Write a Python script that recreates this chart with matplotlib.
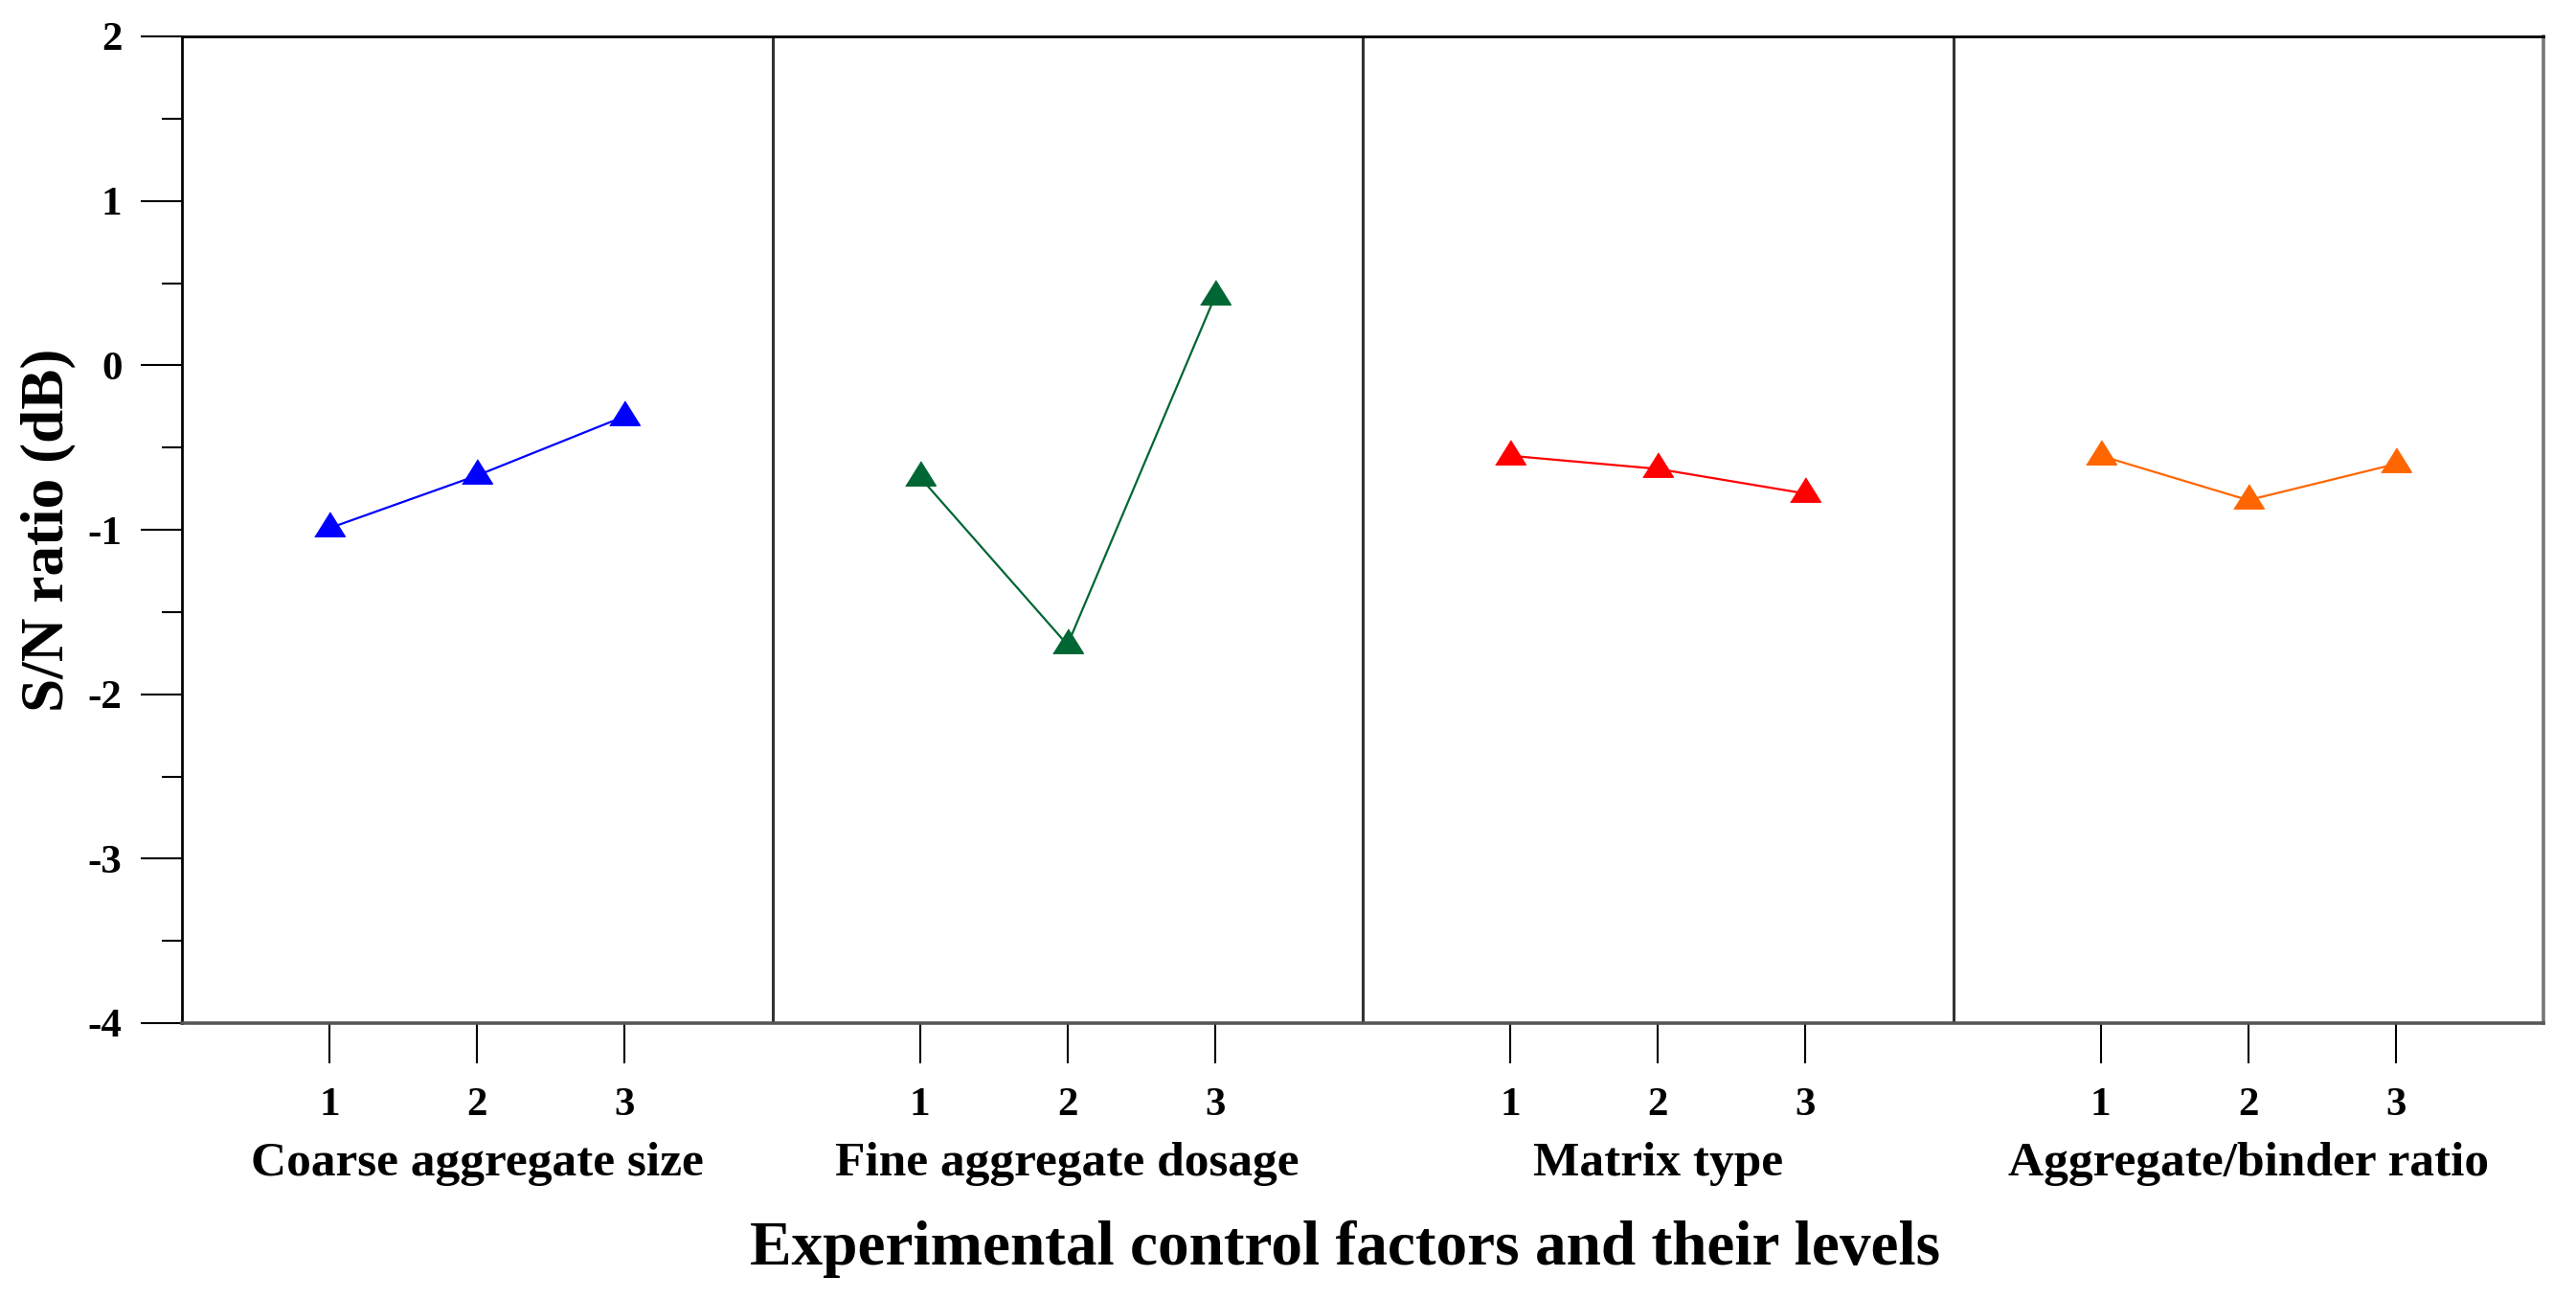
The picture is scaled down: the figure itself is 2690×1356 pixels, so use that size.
import matplotlib
matplotlib.use("Agg")
import matplotlib.pyplot as plt
from matplotlib.ticker import MultipleLocator, FixedLocator

factors = ["Coarse aggregate size", "Fine aggregate dosage", "Matrix type", "Aggregate/binder ratio"]
levels = ["1", "2", "3"]
coarse = [-0.99, -0.67, -0.31]
fine = [-0.68, -1.70, 0.42]
matrix = [-0.55, -0.63, -0.78]
ab_ratio = [-0.55, -0.82, -0.60]
series = [coarse, fine, matrix, ab_ratio]
colors = ["#0000FF", "#006633", "#FF0000", "#FF6600"]

plt.rcParams['font.family'] = ['Liberation Serif', 'DejaVu Serif']
plt.rcParams['font.weight'] = 'bold'
plt.rcParams['axes.unicode_minus'] = False

W, H = 2690, 1356
L, R, T, B = 190, 2656, 38, 1068
fig = plt.figure(figsize=(W / 100, H / 100), dpi=100)
ax = fig.add_axes([L / W, 1 - B / H, (R - L) / W, (B - T) / H])

tri = [(-1, -0.55), (1, -0.55), (0, 1.05)]
n = len(levels)
xt, xl = [], []
lab_tr = matplotlib.transforms.blended_transform_factory(ax.transData, fig.transFigure)
for i, (vals, c) in enumerate(zip(series, colors)):
    xs = [i * (n + 1) + k + 1 for k in range(n)]
    ax.plot(xs, vals, color=c, lw=1.6, marker=tri, ms=24, mfc=c, mec=c, zorder=3)
    xt += xs
    xl += levels
    ax.text(i * (n + 1) + (n + 1) / 2, 1 - 1227 / H, factors[i], transform=lab_tr,
            ha='center', va='baseline', fontsize=37, fontweight='bold')
    if i > 0:
        ax.axvline(i * (n + 1), color='#333333', lw=2.2, zorder=2)

ax.set_xlim(0, len(series) * (n + 1))
ax.set_ylim(-4, 2)
ax.xaxis.set_major_locator(FixedLocator(xt))
ax.set_xticklabels(xl)
ax.yaxis.set_major_locator(MultipleLocator(1))
ax.yaxis.set_minor_locator(MultipleLocator(0.5))

ax.tick_params(axis='x', which='major', direction='out', length=30, width=1.5, pad=18,
               labelsize=31, color='black')
ax.tick_params(axis='y', which='major', direction='out', length=31, width=1.5, pad=14,
               labelsize=31)
ax.tick_params(axis='y', which='minor', direction='out', length=15, width=1.5)
for lab in ax.get_xticklabels() + ax.get_yticklabels():
    lab.set_fontweight('bold')

ax.spines['top'].set_color('black')
ax.spines['top'].set_linewidth(2.0)
ax.spines['left'].set_color('black')
ax.spines['left'].set_linewidth(2.0)
ax.spines['bottom'].set_color('#555555')
ax.spines['bottom'].set_linewidth(2.6)
ax.spines['right'].set_color('#777777')
ax.spines['right'].set_linewidth(2.6)

ax.set_ylabel("S/N ratio (dB)", fontsize=45.5, fontweight='bold')
ax.yaxis.set_label_coords(-(L - 50) / (R - L), 0.5)
ax.yaxis.label.set_va('center')
fig.text(1405 / W, 1 - 1320 / H, "Experimental control factors and their levels",
         ha='center', va='baseline', fontsize=47, fontweight='bold')

fig.savefig("out.png", dpi=100, facecolor='white')
